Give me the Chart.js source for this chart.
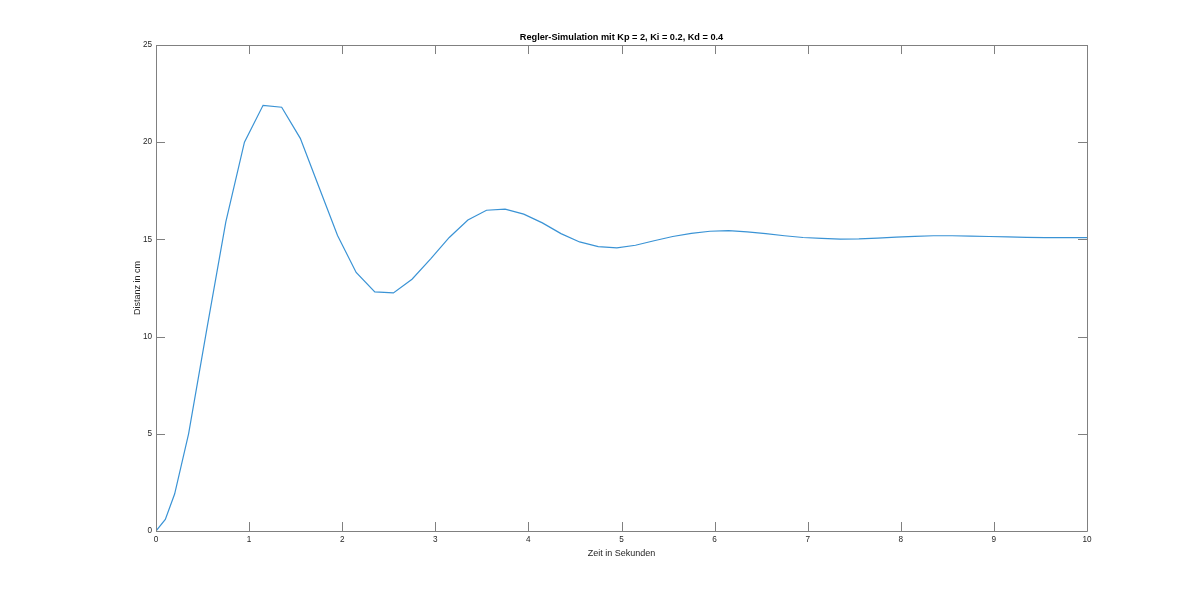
<!DOCTYPE html>
<html>
<head>
<meta charset="utf-8">
<title>Regler-Simulation</title>
<script src="https://cdn.jsdelivr.net/npm/chart.js@4"></script>
<style>
  html, body { margin: 0; padding: 0; background: #fff; }
  #wrap { width: 1200px; height: 597px; }
</style>
</head>
<body>
<div id="wrap"><canvas id="plot" width="1200" height="597"></canvas></div>
<script>
const timeValues = [
  0, 0.1, 0.2, 0.35, 0.55, 0.75, 0.95, 1.15, 1.35, 1.55, 1.75, 1.95,
  2.15, 2.35, 2.55, 2.75, 2.95, 3.15, 3.35, 3.55, 3.75, 3.95, 4.15, 4.35,
  4.55, 4.75, 4.95, 5.15, 5.35, 5.55, 5.75, 5.95, 6.15, 6.35, 6.55, 6.75,
  6.95, 7.15, 7.35, 7.55, 7.75, 7.95, 8.15, 8.35, 8.55, 8.75, 8.95, 9.15,
  9.35, 9.55, 9.75, 9.95, 10
];
const distanceValues = [
  0, 0.6, 1.9, 5.0, 10.5, 15.9, 20.0, 21.9, 21.8, 20.2, 17.7, 15.2,
  13.3, 12.3, 12.25, 12.95, 14.0, 15.1, 16.0, 16.5, 16.56, 16.3, 15.85, 15.3,
  14.87, 14.63, 14.57, 14.7, 14.93, 15.15, 15.31, 15.42, 15.45, 15.39, 15.3, 15.19,
  15.1, 15.05, 15.02, 15.03, 15.07, 15.12, 15.16, 15.19, 15.19, 15.17, 15.15, 15.13,
  15.11, 15.09, 15.09, 15.09, 15.09
];
const xTicks = [0, 1, 2, 3, 4, 5, 6, 7, 8, 9, 10];
const yTicks = [0, 5, 10, 15, 20, 25];

const FONT = 'Helvetica, "Liberation Sans", Arial, sans-serif';
const AXIS_COLOR = '#808080';
const TEXT_COLOR = '#262626';
const TICK_LEN = 9;

// MATLAB-artiger Rahmen mit nach innen zeigenden Ticks auf allen Seiten
const boxPlugin = {
  id: 'matlabBox',
  afterDatasetsDraw(chart) {
    const { ctx, chartArea: a, scales: { x, y } } = chart;
    ctx.save();
    ctx.strokeStyle = AXIS_COLOR;
    ctx.lineWidth = 1;
    ctx.beginPath();
    ctx.rect(Math.round(a.left) + 0.5, Math.round(a.top) + 0.5,
             Math.round(a.right - a.left), Math.round(a.bottom - a.top));
    xTicks.forEach(v => {
      const px = Math.round(x.getPixelForValue(v)) + 0.5;
      ctx.moveTo(px, a.bottom); ctx.lineTo(px, a.bottom - TICK_LEN);
      ctx.moveTo(px, a.top);    ctx.lineTo(px, a.top + TICK_LEN);
    });
    yTicks.forEach(v => {
      const py = Math.round(y.getPixelForValue(v)) + 0.5;
      ctx.moveTo(a.left, py);  ctx.lineTo(a.left + TICK_LEN, py);
      ctx.moveTo(a.right, py); ctx.lineTo(a.right - TICK_LEN, py);
    });
    ctx.stroke();
    ctx.restore();
  }
};

new Chart(document.getElementById('plot'), {
  type: 'line',
  data: {
    datasets: [{
      data: timeValues.map((t, i) => ({ x: t, y: distanceValues[i] })),
      borderColor: '#3a93d5',
      borderWidth: 1.2,
      pointRadius: 0,
      tension: 0,
      fill: false
    }]
  },
  options: {
    responsive: false,
    animation: false,
    layout: { padding: { left: 0, right: 113, top: 0, bottom: 0 } },
    plugins: {
      legend: { display: false },
      tooltip: { enabled: false },
      title: {
        display: true,
        fullSize: false,   // über der Zeichenfläche zentriert
        text: 'Regler-Simulation mit Kp = 2, Ki = 0.2, Kd = 0.4',
        color: '#000',
        font: { family: FONT, size: 9.2, weight: 'bold' },
        padding: { top: 31.5, bottom: 2.5 }
      }
    },
    scales: {
      x: {
        type: 'linear',
        min: 0, max: 10,
        afterFit: s => { s.height = 66; },
        afterBuildTicks: s => { s.ticks = xTicks.map(v => ({ value: v })); },
        grid: { display: false, drawTicks: false },
        border: { display: false },
        ticks: { color: TEXT_COLOR, padding: 4, font: { family: FONT, size: 8.2 } },
        title: {
          display: true, text: 'Zeit in Sekunden', color: TEXT_COLOR,
          font: { family: FONT, size: 9 }, padding: { top: 0, bottom: 37.6 }
        }
      },
      y: {
        type: 'linear',
        min: 0, max: 25,
        afterFit: s => { s.width = 156; },
        afterBuildTicks: s => { s.ticks = yTicks.map(v => ({ value: v })); },
        grid: { display: false, drawTicks: false },
        border: { display: false },
        ticks: { color: TEXT_COLOR, padding: 4, font: { family: FONT, size: 8.2 } },
        title: {
          display: true, text: 'Distanz in cm', color: TEXT_COLOR,
          font: { family: FONT, size: 9 }, padding: { top: 132, bottom: 0 }
        }
      }
    }
  },
  plugins: [boxPlugin]
});
</script>
</body>
</html>
